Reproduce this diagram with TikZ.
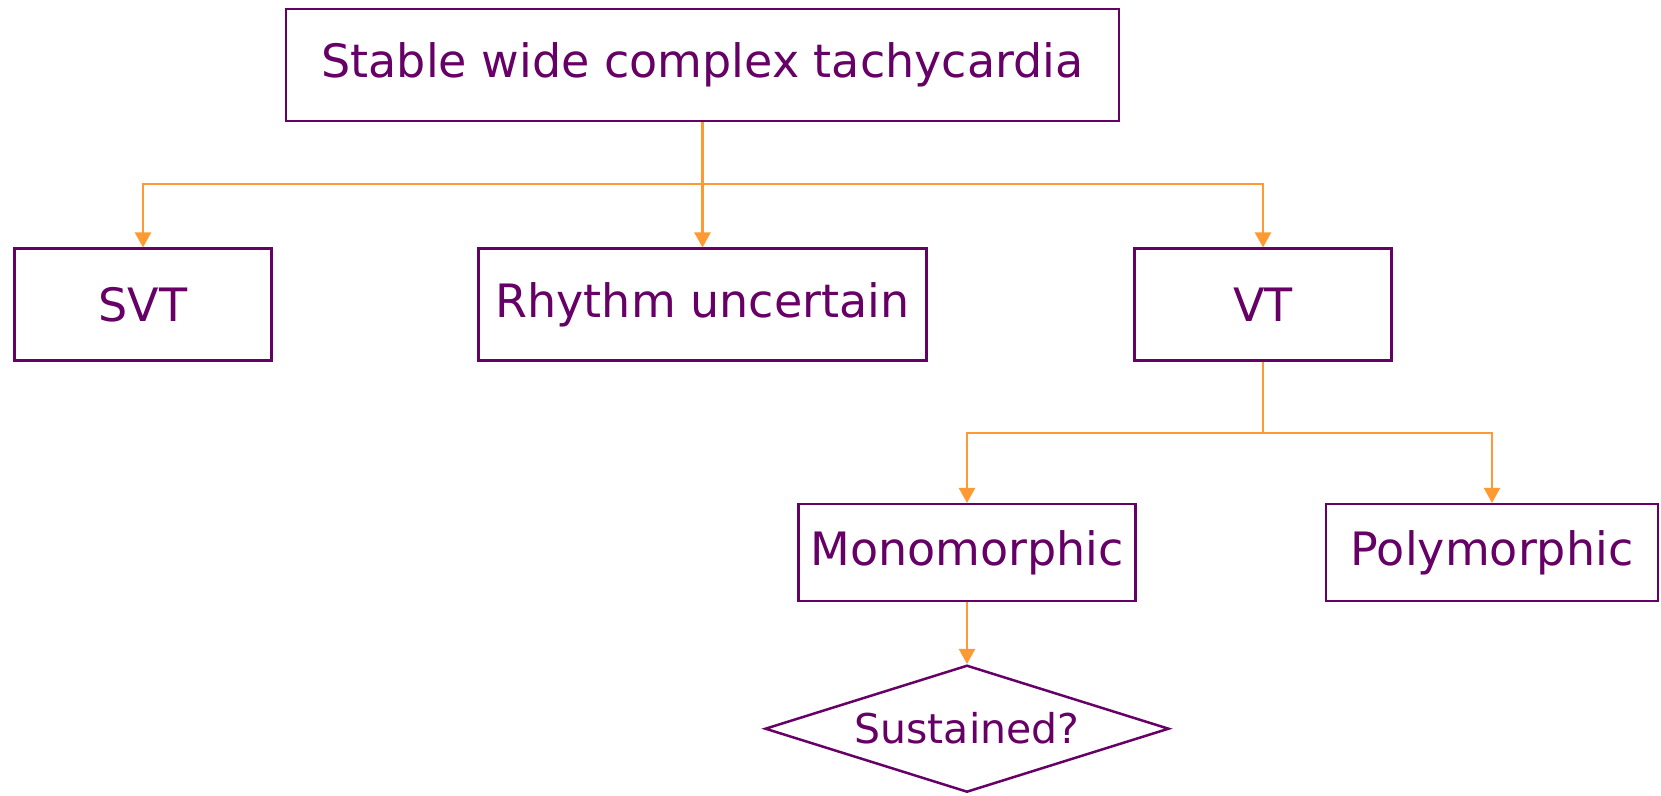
\documentclass[tikz,border=0pt]{standalone}
\usepackage{fontspec}
\setmainfont{DejaVu Sans}
\usetikzlibrary{arrows.meta,shapes.geometric}
\definecolor{plum}{HTML}{660066}
\definecolor{amber}{HTML}{FF9933}
\tikzset{
  >={Triangle[length=15pt,width=16pt]},
  box/.style={draw=plum,text=plum,line width=2.5pt,fill=white,inner sep=0pt,
    font=\fontsize{46}{55}\selectfont},
  decision/.style={box,shape=diamond,aspect=3.2,font=\fontsize{41}{49}\selectfont},
  flow/.style={->,line width=2.2pt,color=amber},
}
\begin{document}
\begin{tikzpicture}[x=1pt,y=-1pt]
  \useasboundingbox (0,0) rectangle (1661,795);
  % first row
  \node[box,minimum width=833pt,minimum height=112pt] (wct) at (702.5,64.8) {Stable wide complex tachycardia};
  \node[box,minimum width=257pt,minimum height=112pt] (svt) at (143,304.7) {SVT};
  \node[box,minimum width=448pt,minimum height=112pt] (unsure) at (702.5,304.7) {Rhythm uncertain};
  \node[box,minimum width=257pt,minimum height=112pt] (vt) at (1263,304.7) {VT};
  % VT branch
  \node[box,minimum width=337pt,minimum height=97pt] (mono) at (967,552.7) {Monomorphic};
  \node[box,minimum width=332pt,minimum height=97pt] (poly) at (1492,552.7) {Polymorphic};
  \node[decision,minimum width=404pt,minimum height=127pt] (sust) at (967,728.7) {Sustained?};
  \coordinate (split) at (702.5,184.3);
  \coordinate (vtsplit) at (1263,432.7);
  \draw[flow] (wct.south) -- (split) -| (svt.north);
  \draw[flow] (split) -- (unsure.north);
  \draw[flow] (split) -| (vt.north);
  \draw[flow] (vt.south) -- (vtsplit) -| (mono.north);
  \draw[flow] (vtsplit) -| (poly.north);
  \draw[flow] (mono.south) -- (sust.north);
\end{tikzpicture}
\end{document}
